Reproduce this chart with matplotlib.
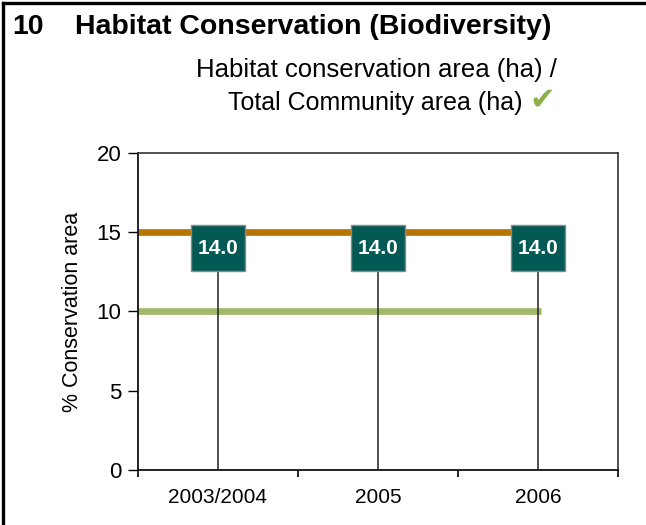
import matplotlib.pyplot as plt
from matplotlib.patches import Rectangle
from matplotlib.lines import Line2D

plt.rcParams['font.family'] = ['Liberation Sans', 'DejaVu Sans']

years = ['2003/2004', '2005', '2006']
values = [14.0, 14.0, 14.0]
target_high = 15
target_low = 10

fig = plt.figure(figsize=(6.46, 5.25), dpi=100)
ax = fig.add_axes([0.2136, 0.1048, 0.7431, 0.6038])

x = list(range(len(years)))

# reference lines
ax.plot([-0.5, x[-1] + 0.02], [target_high, target_high], color='#B87400', lw=4.8,
        solid_capstyle='butt', zorder=2)
ax.plot([-0.5, x[-1] + 0.02], [target_low, target_low], color='#A2B76A', lw=4.8,
        solid_capstyle='butt', zorder=2)

# stems + value boxes
bw, bh = 0.34, 2.85
for xi, v in zip(x, values):
    ax.vlines(xi, 0, v, color='#222222', lw=1.1, zorder=3)
    ax.add_patch(Rectangle((xi - bw / 2, v - bh / 2), bw, bh, facecolor='#035A55',
                           edgecolor='#8A8A8A', lw=1.0, zorder=4))
    ax.text(xi, v, f'{v:.1f}', color='white', fontsize=15, fontweight='bold',
            ha='center', va='center', zorder=5)

ax.set_xlim(-0.5, 2.5)
ax.set_ylim(0, 20)
ax.set_yticks([0, 5, 10, 15, 20])
ax.set_xticks([-0.5, 0.5, 1.5, 2.5])
ax.set_xticklabels([])
ax.set_xticks(x, minor=True)
ax.set_xticklabels(years, minor=True)
ax.tick_params(axis='x', which='minor', length=0, pad=13, labelsize=15)
ax.tick_params(axis='x', which='major', length=5, width=1.2, direction='out')
ax.tick_params(axis='y', length=7, width=1.0, labelsize=16, pad=5)
ax.set_ylabel('% Conservation area', fontsize=15.5, labelpad=10)

for s in ['left', 'bottom']:
    ax.spines[s].set_linewidth(1.3)
    ax.spines[s].set_color('#111111')
for s in ['top', 'right']:
    ax.spines[s].set_linewidth(1.2)
    ax.spines[s].set_color('#333333')

# titles
fig.text(12 / 646, 1 - 27 / 525, '10', fontsize=20.5,
         fontweight='bold', ha='left', va='center')
fig.text(75 / 646, 1 - 27 / 525, 'Habitat Conservation (Biodiversity)', fontsize=20.5,
         fontweight='bold', ha='left', va='center')
fig.text(557 / 646, 1 - 70 / 525, 'Habitat conservation area (ha) /', fontsize=18.5,
         ha='right', va='center')
fig.text(523 / 646, 1 - 103 / 525, 'Total Community area (ha)', fontsize=18,
         ha='right', va='center')
fig.text(529 / 646, 1 - 100 / 525, '\u2714', fontsize=22, color='#8DB04A',
         ha='left', va='center', family='DejaVu Sans')

# frame (left and top edges)
fig.add_artist(Line2D([3 / 646, 3 / 646], [0, 1 - 3 / 525], transform=fig.transFigure,
                      color='black', lw=2.4))
fig.add_artist(Line2D([3 / 646, 1], [1 - 3 / 525, 1 - 3 / 525], transform=fig.transFigure,
                      color='black', lw=2.4))

fig.savefig('out.png', dpi=100)
